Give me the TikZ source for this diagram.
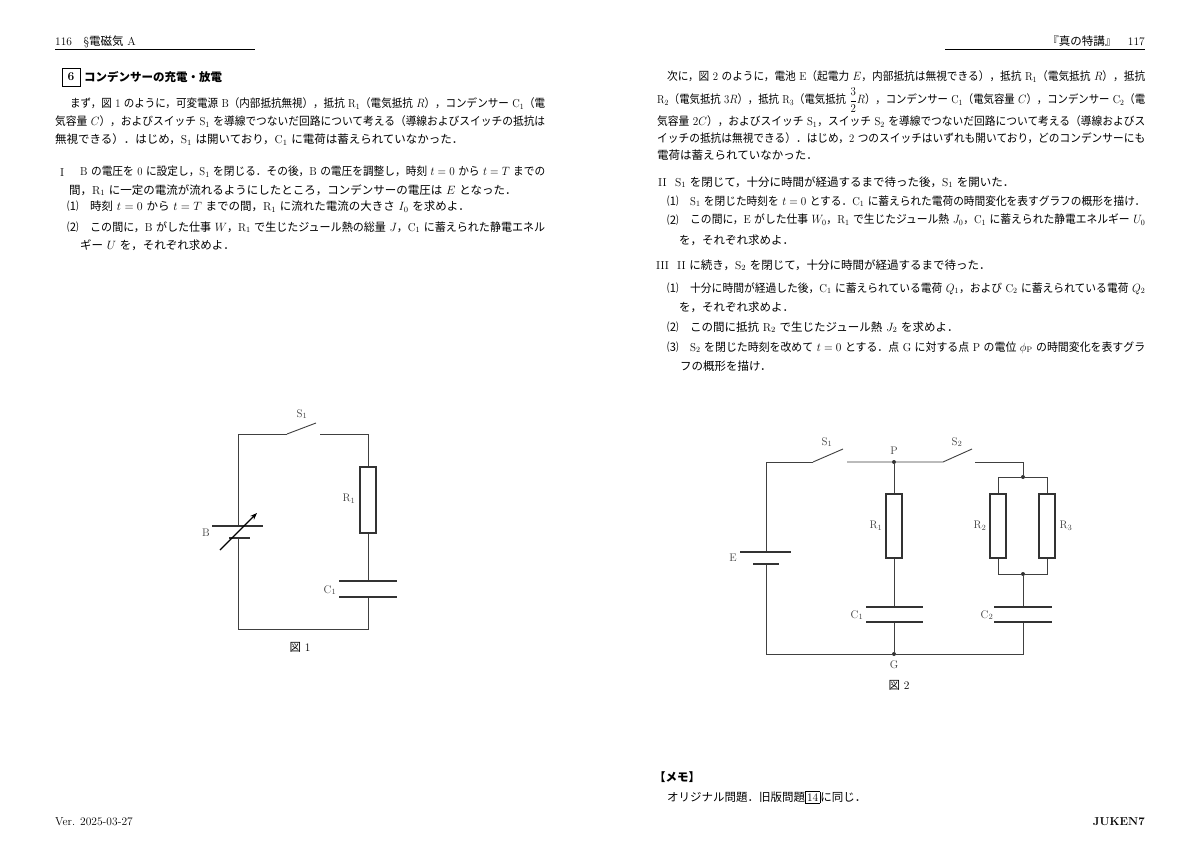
\documentclass[tikz,border=0pt]{standalone}
\usepackage{amsmath}
\usepackage{fontspec}
\usepackage{graphicx}
\usetikzlibrary{arrows.meta}
\newfontfamily\jp{Noto Sans CJK JP}
\def\jpb{\jp\bfseries}
\def\jpsw{\jp}
\def\rmsw{\normalfont}
\newXeTeXintercharclass\jpc
\makeatletter
\def\setjprange#1#2{\count@=#1\relax\loop\XeTeXcharclass\count@=\jpc\ifnum\count@<#2\advance\count@ 1\repeat}
\setjprange{"3000}{"30FF}
\setjprange{"4E00}{"9FFF}
\setjprange{"FF00}{"FFEF}
\setjprange{"2460}{"24FF}
\makeatother
\XeTeXinterchartoks 0 \jpc={\jpsw}
\XeTeXinterchartoks 4095 \jpc={\jpsw}
\XeTeXinterchartoks \jpc 0={\rmsw}
\XeTeXinterchartoks \jpc 4095={\rmsw}
\XeTeXinterchartokenstate=1
\newcommand\fl[2]{\resizebox{#1pt}{\height}{#2}}
\tikzset{
  tx/.style={anchor=base west,inner sep=0pt,font=\fontsize{11.5}{13}\selectfont},
  lb/.style={inner sep=0pt,font=\fontsize{11}{13}\selectfont,text=black!75},
  wire/.style={draw=black!75,line width=0.9pt},
  res/.style={draw=black!80,line width=1.6pt},
  plate/.style={draw=black!80,line width=2.2pt},
  dot/.style={circle,fill=black!80,inner sep=0pt,minimum size=4pt}
}
\begin{document}
\begin{tikzpicture}[x=1pt,y=-1pt]
\useasboundingbox (0,0) rectangle (1200,848);
\fill[white] (0,0) rectangle (1200,848);
% headers
\node[tx] (h1) at (55,46) {116\quad §電磁気 A};
\draw[line width=0.6pt] (55,49) -- (255,49);
\node[tx,anchor=base east] (h2) at (1145,46) {『真の特講』\quad 117};
\draw[line width=0.6pt] (945,49) -- (1145,49);
% title
\node[draw,line width=0.8pt,minimum width=18pt,minimum height=18pt,inner sep=0pt,font=\fontsize{12}{13}\bfseries] (six) at (71,77) {6};
\node[tx,anchor=west] (ttl) at (84,77) {\def\jpsw{\jpb}コンデンサーの充電・放電};
% left text
\node[tx] (l1) at (70,108) {\fl{475}{まず，図 1 のように，可変電源 B（内部抵抗無視），抵抗 R$_1$（電気抵抗 $R$），コンデンサー C$_1$（電}};
\node[tx] (l2) at (55,126) {\fl{490}{気容量 $C$），およびスイッチ S$_1$ を導線でつないだ回路について考える（導線およびスイッチの抵抗は}};
\node[tx] (l3) at (55,144) {無視できる）．はじめ，S$_1$ は開いており，C$_1$ に電荷は蓄えられていなかった．};
\node[tx] (i1) at (60,176) {I};
\node[tx] (i2) at (80,176) {\fl{465}{B の電圧を 0 に設定し，S$_1$ を閉じる．その後，B の電圧を調整し，時刻 $t=0$ から $t=T$ までの}};
\node[tx] (i3) at (69,194) {間，R$_1$ に一定の電流が流れるようにしたところ，コンデンサーの電圧は $E$ となった．};
\node[tx] (i4) at (67,211) {⑴};
\node[tx] (i5) at (90,211) {時刻 $t=0$ から $t=T$ までの間，R$_1$ に流れた電流の大きさ $I_0$ を求めよ．};
\node[tx] (i6) at (67,231) {⑵};
\node[tx] (i7) at (90,231) {\fl{455}{この間に，B がした仕事 $W$，R$_1$ で生じたジュール熱の総量 $J$，C$_1$ に蓄えられた静電エネル}};
\node[tx] (i8) at (80,249) {ギー $U$ を，それぞれ求めよ．};
% right text
\node[tx] (r1) at (667,81) {\fl{478}{次に，図 2 のように，電池 E（起電力 $E$，内部抵抗は無視できる），抵抗 R$_1$（電気抵抗 $R$），抵抗}};
\node[tx] (r2) at (657,104) {\fl{488}{R$_2$（電気抵抗 $3R$），抵抗 R$_3$（電気抵抗 $\dfrac{3}{2}R$），コンデンサー C$_1$（電気容量 $C$），コンデンサー C$_2$（電}};
\node[tx] (r3) at (657,126) {\fl{488}{気容量 $2C$），およびスイッチ S$_1$，スイッチ S$_2$ を導線でつないだ回路について考える（導線およびス}};
\node[tx] (r4) at (657,143) {\fl{488}{イッチの抵抗は無視できる）．はじめ，2 つのスイッチはいずれも開いており，どのコンデンサーにも}};
\node[tx] (r5) at (657,160) {電荷は蓄えられていなかった．};
\node[tx] (r6) at (658,186) {II};
\node[tx] (r7) at (675,186) {S$_1$ を閉じて，十分に時間が経過するまで待った後，S$_1$ を開いた．};
\node[tx] (r8) at (667,205) {⑴};
\node[tx] (r9) at (690,205) {\fl{455}{S$_1$ を閉じた時刻を $t=0$ とする．C$_1$ に蓄えられた電荷の時間変化を表すグラフの概形を描け．}};
\node[tx] (r10) at (667,224) {⑵};
\node[tx] (r11) at (690,224) {\fl{455}{この間に，E がした仕事 $W_0$，R$_1$ で生じたジュール熱 $J_0$，C$_1$ に蓄えられた静電エネルギー $U_0$}};
\node[tx] (r12) at (679,244) {を，それぞれ求めよ．};
\node[tx] (r13) at (656,269) {III};
\node[tx] (r14) at (677,269) {II に続き，S$_2$ を閉じて，十分に時間が経過するまで待った．};
\node[tx] (r15) at (667,292) {⑴};
\node[tx] (r16) at (690,292) {\fl{455}{十分に時間が経過した後，C$_1$ に蓄えられている電荷 $Q_1$，および C$_2$ に蓄えられている電荷 $Q_2$}};
\node[tx] (r17) at (679,311) {を，それぞれ求めよ．};
\node[tx] (r18) at (667,331) {⑵};
\node[tx] (r19) at (690,331) {この間に抵抗 R$_2$ で生じたジュール熱 $J_2$ を求めよ．};
\node[tx] (r20) at (667,351) {⑶};
\node[tx] (r21) at (690,351) {\fl{455}{S$_2$ を閉じた時刻を改めて $t=0$ とする．点 G に対する点 P の電位 $\phi_{\mathrm{P}}$ の時間変化を表すグラ}};
\node[tx] (r22) at (680,370) {フの概形を描け．};
% Figure 1
\coordinate (a1) at (238,434);
\coordinate (a2) at (287,434);
\coordinate (a3) at (316,423);
\coordinate (a4) at (320,434);
\coordinate (a5) at (368,434);
\coordinate (a6) at (368,629);
\coordinate (a7) at (238,629);
\draw[wire] (a2) -- (a1) -- (238,526);
\draw[wire] (238,538) -- (a7) -- (a6) -- (368,597);
\draw[wire] (368,581) -- (368,533);
\draw[wire] (368,467) -- (a5) -- (a4);
\draw[wire] (a2) -- (a3);
\node[res,draw,minimum width=16pt,minimum height=66pt,inner sep=0pt] (R1a) at (368,500) {};
\draw[plate] (339,581) -- (397,581);
\draw[plate] (339,597) -- (397,597);
\draw[plate] (212,526) -- (263,526);
\draw[plate] (229,538) -- (250,538);
\draw[line width=1.2pt,-{Stealth[length=7pt]}] (220,550) -- (257,513);
\node[lb] (S1a) at (302,414) {S$_1$};
\node[lb] (R1al) at (349,499) {R$_1$};
\node[lb] (C1a) at (330,590) {C$_1$};
\node[lb] (Ba) at (206,533) {B};
\node[tx,anchor=center] (f1) at (300,647) {図 1};
% Figure 2
\node[dot] (P) at (894,462) {};
\node[dot] (G) at (894,654) {};
\node[dot] (J1) at (1023,477) {};
\node[dot] (J2) at (1023,574) {};
\coordinate (b1) at (766,462);
\coordinate (b2) at (813,462);
\coordinate (b3) at (843,449);
\coordinate (b4) at (847,462);
\coordinate (b5) at (943,462);
\coordinate (b6) at (972,449);
\coordinate (b7) at (975,462);
\coordinate (b8) at (1023,462);
\draw[wire] (b2) -- (b1) -- (766,552);
\draw[wire] (766,564) -- (766,654) -- (G) -- (1023,654) -- (1023,622);
\draw[wire] (b2) -- (b3);
\draw[wire] (b4) -- (P) -- (b5) -- (b6);
\draw[wire] (b7) -- (b8) -- (J1);
\draw[wire] (P) -- (894,494);
\draw[wire] (894,558) -- (894,607);
\draw[wire] (894,622) -- (G);
\draw[wire] (J1) -- (998,477) -- (998,494);
\draw[wire] (J1) -- (1047,477) -- (1047,494);
\draw[wire] (998,558) -- (998,574) -- (J2) -- (1047,574) -- (1047,558);
\draw[wire] (J2) -- (1023,607);
\node[res,draw,minimum width=16pt,minimum height=64pt,inner sep=0pt] (R1b) at (894,526) {};
\node[res,draw,minimum width=16pt,minimum height=64pt,inner sep=0pt] (R2b) at (998,526) {};
\node[res,draw,minimum width=16pt,minimum height=64pt,inner sep=0pt] (R3b) at (1047,526) {};
\draw[plate] (866,607) -- (923,607);
\draw[plate] (866,622) -- (923,622);
\draw[plate] (994,607) -- (1052,607);
\draw[plate] (994,622) -- (1052,622);
\draw[plate] (740,552) -- (791,552);
\draw[plate] (753,564) -- (779,564);
\node[lb] (S1b) at (827,442) {S$_1$};
\node[lb] (Pl) at (894,451) {P};
\node[lb] (S2b) at (957,442) {S$_2$};
\node[lb] (R1bl) at (876,526) {R$_1$};
\node[lb] (R2bl) at (980,526) {R$_2$};
\node[lb] (R3bl) at (1066,526) {R$_3$};
\node[lb] (C1b) at (857,615) {C$_1$};
\node[lb] (C2b) at (987,615) {C$_2$};
\node[lb] (Eb) at (733,558) {E};
\node[lb] (Gl) at (894,665) {G};
\node[tx,anchor=center] (f2) at (899,685) {図 2};
% memo and footer
\node[tx] (m1) at (654,781) {\def\jpsw{\jpb}【メモ】};
\node[tx] (m2) at (667,801) {オリジナル問題．旧版問題{\setlength\fboxsep{1.5pt}\fbox{14}}に同じ．};
\node[tx] (v) at (55,825) {Ver. 2025-03-27};
\node[tx,anchor=base east,font=\fontsize{11.5}{13}\bfseries] (jk) at (1145,825) {JUKEN7};
\end{tikzpicture}
\end{document}
